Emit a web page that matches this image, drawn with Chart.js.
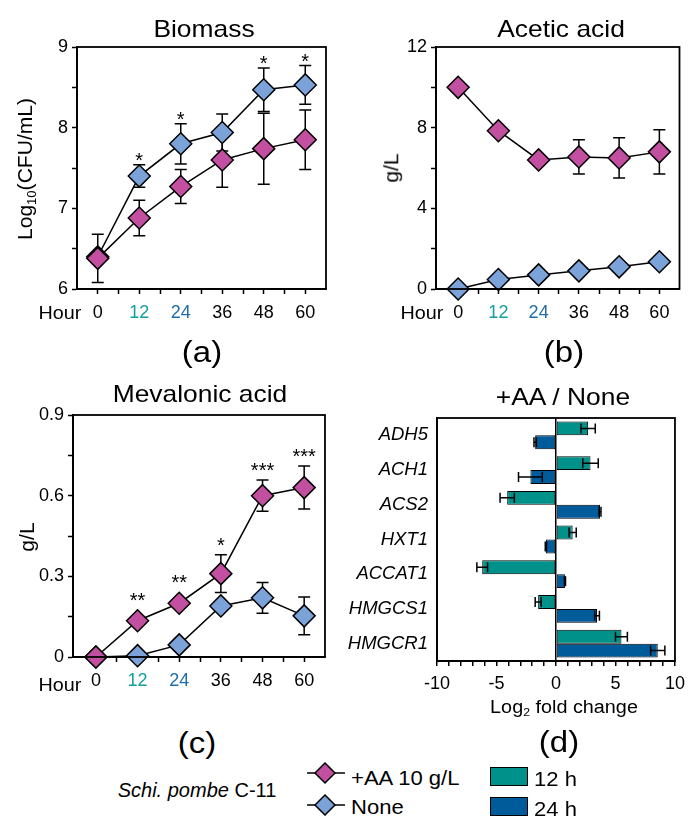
<!DOCTYPE html>
<html>
<head>
<meta charset="utf-8">
<script src="https://cdn.jsdelivr.net/npm/chart.js@4.4.1/dist/chart.umd.min.js"></script>
<style>
  body { margin: 0; background: #fff; }
  #page { position: relative; width: 692px; height: 816px; overflow: hidden; font-family: "Liberation Sans", Arial, sans-serif; color: #000; }
  #page canvas { position: absolute; }
  .c { position: absolute; white-space: nowrap; line-height: 1; transform: translate(-50%, -50%) scaleX(1.1); }
  .l { position: absolute; white-space: nowrap; line-height: 1; transform-origin: left center; transform: translateY(-50%) scaleX(1.05); }
  .v { position: absolute; white-space: nowrap; line-height: 1; transform: translate(-50%, -50%) rotate(-90deg) scaleX(1.08); }
  sub { font-size: 0.62em; vertical-align: -0.3em; line-height: 0; }
</style>
</head>
<body>
<div id="page">
  <canvas id="ca" width="346" height="340" style="left:0;top:0"></canvas>
  <canvas id="cb" width="346" height="340" style="left:346px;top:0"></canvas>
  <canvas id="cc" width="346" height="340" style="left:0;top:370px"></canvas>
  <canvas id="cd" width="346" height="340" style="left:346px;top:370px"></canvas>

  <div class="c" style="left:204px;top:29px;font-size:24px">Biomass</div>
  <div class="c" style="left:561px;top:29px;font-size:24px">Acetic acid</div>
  <div class="c" style="left:200px;top:394px;font-size:24px">Mevalonic acid</div>
  <div class="c" style="left:563px;top:397px;font-size:24px">+AA / None</div>

  <div class="v" style="left:26px;top:169px;font-size:19.5px">Log<sub>10</sub>(CFU/mL)</div>
  <div class="v" style="left:392px;top:168px;font-size:19.5px">g/L</div>
  <div class="v" style="left:28px;top:537px;font-size:19.5px">g/L</div>

  <div class="c" style="left:60px;top:313px;font-size:18px">Hour</div>
  <div class="c" style="left:422px;top:313px;font-size:18px">Hour</div>
  <div class="c" style="left:60px;top:685px;font-size:18px">Hour</div>
  <div class="c" style="left:564px;top:707px;font-size:18px">Log<sub>2</sub> fold change</div>

  <div class="c" style="left:202px;top:352px;font-size:30px">(a)</div>
  <div class="c" style="left:564px;top:352px;font-size:30px">(b)</div>
  <div class="c" style="left:197px;top:743px;font-size:30px">(c)</div>
  <div class="c" style="left:559px;top:742px;font-size:30px">(d)</div>

  <div class="c" style="left:197px;top:790px;font-size:20px;transform:translate(-50%,-50%)"><i>Schi. pombe</i> C-11</div>

  <svg style="position:absolute;left:305px;top:761px" width="42" height="24">
    <line x1="2" y1="12" x2="40" y2="12" stroke="#000" stroke-width="1.5"/>
    <polygon points="10,12 20,2 30,12 20,22" fill="#c24f9f" stroke="#000" stroke-width="1.5"/>
  </svg>
  <svg style="position:absolute;left:305px;top:793px" width="42" height="24">
    <line x1="2" y1="12" x2="40" y2="12" stroke="#000" stroke-width="1.5"/>
    <polygon points="10,12 20,2 30,12 20,22" fill="#7ba3d9" stroke="#000" stroke-width="1.5"/>
  </svg>
  <div class="l" style="left:351px;top:777px;font-size:21px">+AA 10 g/L</div>
  <div class="l" style="left:351px;top:806px;font-size:21px">None</div>

  <div style="position:absolute;left:490px;top:767px;width:36px;height:17px;background:#00928a;border:1.5px solid #000"></div>
  <div style="position:absolute;left:490px;top:797px;width:36px;height:17px;background:#005b9b;border:1.5px solid #000"></div>
  <div class="l" style="left:534px;top:778px;font-size:21px">12 h</div>
  <div class="l" style="left:534px;top:808px;font-size:21px">24 h</div>
</div>

<script>
// sampling times (h)
const hours = [0, 12, 24, 36, 48, 60];
const hourTicks = [0, 6, 12, 18, 24, 30, 36, 42, 48, 54, 60];

// (a) biomass, log10 CFU/mL
const biomassAA = [6.38, 6.88, 7.27, 7.6, 7.74, 7.85];
const biomassAAErr = [0.3, 0.22, 0.21, 0.34, 0.44, 0.37];
const biomassNone = [6.4, 7.4, 7.8, 7.94, 8.47, 8.53];
const biomassNoneErr = [0, 0.14, 0.25, 0.23, 0.27, 0.24];
const biomassStars = ['', '*', '*', '', '*', '*'];
const biomassTicks = [6, 7, 8, 9];

// (b) acetic acid, g/L
const aceticAA = [10, 7.85, 6.4, 6.55, 6.5, 6.8];
const aceticAAErr = [0, 0, 0, 0.85, 1.0, 1.1];
const aceticNone = [0, 0.47, 0.7, 0.9, 1.1, 1.35];
const aceticNoneErr = [0, 0, 0, 0, 0, 0];
const aceticTicks = [0, 4, 8, 12];

// (c) mevalonic acid, g/L
const mevAA = [0, 0.135, 0.2, 0.31, 0.6, 0.63];
const mevAAErr = [0, 0, 0.01, 0.07, 0.058, 0.08];
const mevNone = [0, 0.005, 0.045, 0.19, 0.22, 0.153];
const mevNoneErr = [0, 0, 0, 0, 0.057, 0.07];
const mevStars = ['', '**', '**', '*', '***', '***'];
const mevTicks = [0, 0.3, 0.6, 0.9];

// (d) log2 fold change +AA / None
const genes = ['ADH5', 'ACH1', 'ACS2', 'HXT1', 'ACCAT1', 'HMGCS1', 'HMGCR1'];
const fold12 = [2.7, 2.9, -4.1, 1.4, -6.2, -1.5, 5.5];
const fold12Err = [0.6, 0.65, 0.6, 0.3, 0.45, 0.25, 0.5];
const fold24 = [-1.75, -2.15, 3.7, -0.85, 0.75, 3.45, 8.55];
const fold24Err = [0.1, 1.0, 0.08, 0.05, 0.05, 0.2, 0.6];

const PINK = '#c24f9f', LIGHTBLUE = '#7ba3d9', TEAL = '#00928a', NAVY = '#005b9b';

Chart.defaults.font.family = '"Liberation Sans", Arial, sans-serif';
Chart.defaults.font.size = 18;
Chart.defaults.color = '#000';

// box around the plot area
const frame = {
  id: 'frame',
  afterDatasetsDraw(chart) {
    const a = chart.chartArea, ctx = chart.ctx;
    ctx.save();
    ctx.strokeStyle = '#000';
    ctx.lineWidth = 1.8;
    ctx.strokeRect(a.left, a.top, a.right - a.left, a.bottom - a.top);
    ctx.restore();
  }
};

function drawErrors(chart) {
  const ctx = chart.ctx;
  const horiz = chart.options.indexAxis === 'y';
  ctx.save();
  ctx.strokeStyle = '#000';
  ctx.lineWidth = 1.5;
  chart.data.datasets.forEach((ds, i) => {
    if (!ds.errors) return;
    const meta = chart.getDatasetMeta(i);
    meta.data.forEach((el, j) => {
      const e = ds.errors[j];
      if (!e) return;
      const d = ds.data[j];
      const v = typeof d === 'number' ? d : d.y;
      ctx.beginPath();
      if (horiz) {
        const x1 = chart.scales.x.getPixelForValue(v - e), x2 = chart.scales.x.getPixelForValue(v + e);
        ctx.moveTo(x1, el.y); ctx.lineTo(x2, el.y);
        ctx.moveTo(x1, el.y - 5); ctx.lineTo(x1, el.y + 5);
        ctx.moveTo(x2, el.y - 5); ctx.lineTo(x2, el.y + 5);
      } else {
        const y1 = chart.scales.y.getPixelForValue(v + e), y2 = chart.scales.y.getPixelForValue(v - e);
        ctx.moveTo(el.x, y1); ctx.lineTo(el.x, y2);
        ctx.moveTo(el.x - 6, y1); ctx.lineTo(el.x + 6, y1);
        ctx.moveTo(el.x - 6, y2); ctx.lineTo(el.x + 6, y2);
      }
      ctx.stroke();
    });
  });
  ctx.restore();
}

const errorBars = {
  id: 'errorBars',
  beforeDatasetsDraw(chart) { if (chart.config.type === 'line') drawErrors(chart); },
  afterDatasetsDraw(chart) { if (chart.config.type === 'bar') drawErrors(chart); }
};

// significance marks above the highest mark at each time
const stars = {
  id: 'stars',
  afterDatasetsDraw(chart, args, opts) {
    if (!opts.labels) return;
    const ctx = chart.ctx, xs = chart.scales.x, ys = chart.scales.y;
    ctx.save();
    ctx.font = '20px "Liberation Sans", Arial, sans-serif';
    ctx.textAlign = 'center';
    ctx.textBaseline = 'alphabetic';
    ctx.fillStyle = '#000';
    opts.labels.forEach((lab, i) => {
      if (!lab) return;
      let top = Infinity;
      chart.data.datasets.forEach(ds => {
        const v = ds.data[i].y, e = (ds.errors || [])[i] || 0;
        top = Math.min(top, ys.getPixelForValue(v + e), ys.getPixelForValue(v) - ds.pointRadius);
      });
      ctx.fillText(lab, xs.getPixelForValue(hours[i]), top - opts.gap + 11);
    });
    ctx.restore();
  }
};

function pts(arr) { return hours.map((h, i) => ({ x: h, y: arr[i] })); }

function withMinors(major) {
  const out = [];
  major.forEach((v, i) => {
    out.push(v);
    if (i < major.length - 1) out.push((v + major[i + 1]) / 2);
  });
  return out;
}

function hourColor(c) {
  const v = c.tick && c.tick.value;
  if (v === 12) return '#159f9c';
  if (v === 24) return '#1f6dab';
  return '#000';
}

function lineChart(id, s) {
  const series = (label, arr, err, color) => ({
    label: label, data: pts(arr), errors: err,
    borderColor: '#000', borderWidth: 1.5, tension: 0,
    pointStyle: 'rectRot', pointRadius: 11, pointBorderWidth: 1.5,
    pointBorderColor: '#000', pointBackgroundColor: color, clip: false
  });
  return new Chart(document.getElementById(id), {
    type: 'line',
    data: {
      datasets: [
        series('+AA 10 g/L', s.aa, s.aaErr, PINK),
        series('None', s.none, s.noneErr, LIGHTBLUE)
      ]
    },
    options: {
      responsive: false,
      animation: false,
      layout: { padding: s.pad },
      plugins: {
        legend: { display: false },
        tooltip: { enabled: false },
        stars: { labels: s.stars, gap: s.gap }
      },
      scales: {
        x: {
          type: 'linear', min: s.xmin, max: 66,
          afterBuildTicks: sc => { sc.ticks = hourTicks.map(v => ({ value: v })); },
          afterFit: sc => { sc.height = s.xh; },
          ticks: {
            autoSkip: false, maxRotation: 0, padding: 8,
            color: hourColor,
            callback: v => (v % 12 === 0 ? String(v) : '')
          },
          grid: { drawOnChartArea: false, tickLength: 5, tickColor: '#000', tickWidth: 1.5 },
          border: { color: '#000', width: 1.8 }
        },
        y: {
          min: s.ticks[0], max: s.ticks[s.ticks.length - 1],
          afterBuildTicks: sc => { sc.ticks = withMinors(s.ticks).map(v => ({ value: v })); },
          afterFit: sc => { sc.width = s.yw; },
          ticks: {
            autoSkip: false, padding: 4,
            callback: v => (s.ticks.some(t => Math.abs(t - v) < 1e-9) ? String(v) : '')
          },
          grid: { drawOnChartArea: false, tickLength: 5, tickColor: '#000', tickWidth: 1.5 },
          border: { color: '#000', width: 1.8 }
        }
      }
    },
    plugins: [errorBars, frame, stars]
  });
}

lineChart('ca', {
  aa: biomassAA, aaErr: biomassAAErr, none: biomassNone, noneErr: biomassNoneErr,
  stars: biomassStars, gap: 9, ticks: biomassTicks, xmin: -6,
  pad: { left: 0, right: 20, top: 47, bottom: 0 }, yw: 77, xh: 51
});

lineChart('cb', {
  aa: aceticAA, aaErr: aceticAAErr, none: aceticNone, noneErr: aceticNoneErr,
  stars: null, gap: 9, ticks: aceticTicks, xmin: -6.6,
  pad: { left: 0, right: 5, top: 47, bottom: 0 }, yw: 90, xh: 51
});

lineChart('cc', {
  aa: mevAA, aaErr: mevAAErr, none: mevNone, noneErr: mevNoneErr,
  stars: mevStars, gap: 14, ticks: mevTicks, xmin: -6.6,
  pad: { left: 0, right: 21, top: 45, bottom: 0 }, yw: 73, xh: 53
});

const foldTicks = [];
for (let v = -10; v <= 10; v++) foldTicks.push(v);

new Chart(document.getElementById('cd'), {
  type: 'bar',
  data: {
    labels: genes,
    datasets: [
      { label: '12 h', data: fold12, errors: fold12Err, backgroundColor: TEAL, borderColor: '#000', borderWidth: 1, borderSkipped: false },
      { label: '24 h', data: fold24, errors: fold24Err, backgroundColor: NAVY, borderColor: '#000', borderWidth: 1, borderSkipped: false }
    ]
  },
  options: {
    indexAxis: 'y',
    responsive: false,
    animation: false,
    categoryPercentage: 0.8,
    barPercentage: 1.0,
    layout: { padding: { left: 0, right: 7, top: 48, bottom: 0 } },
    plugins: { legend: { display: false }, tooltip: { enabled: false } },
    scales: {
      x: {
        min: -10, max: 10,
        afterBuildTicks: sc => { sc.ticks = foldTicks.map(v => ({ value: v })); },
        afterFit: sc => { sc.height = 49; },
        ticks: { autoSkip: false, maxRotation: 0, padding: 7, callback: v => (v % 5 === 0 ? String(v) : '') },
        grid: {
          drawOnChartArea: true, tickLength: 5, tickColor: '#000', tickWidth: 1.5, lineWidth: 1.5,
          color: c => (c.tick && c.tick.value === 0 ? '#000' : 'rgba(0,0,0,0)')
        },
        border: { color: '#000', width: 1.8 }
      },
      y: {
        afterFit: sc => { sc.width = 91; },
        ticks: { padding: 9, font: { size: 18.5, style: 'italic' } },
        grid: { display: false, drawTicks: false },
        border: { color: '#000', width: 1.8 }
      }
    }
  },
  plugins: [errorBars, frame]
});
</script>
</body>
</html>
